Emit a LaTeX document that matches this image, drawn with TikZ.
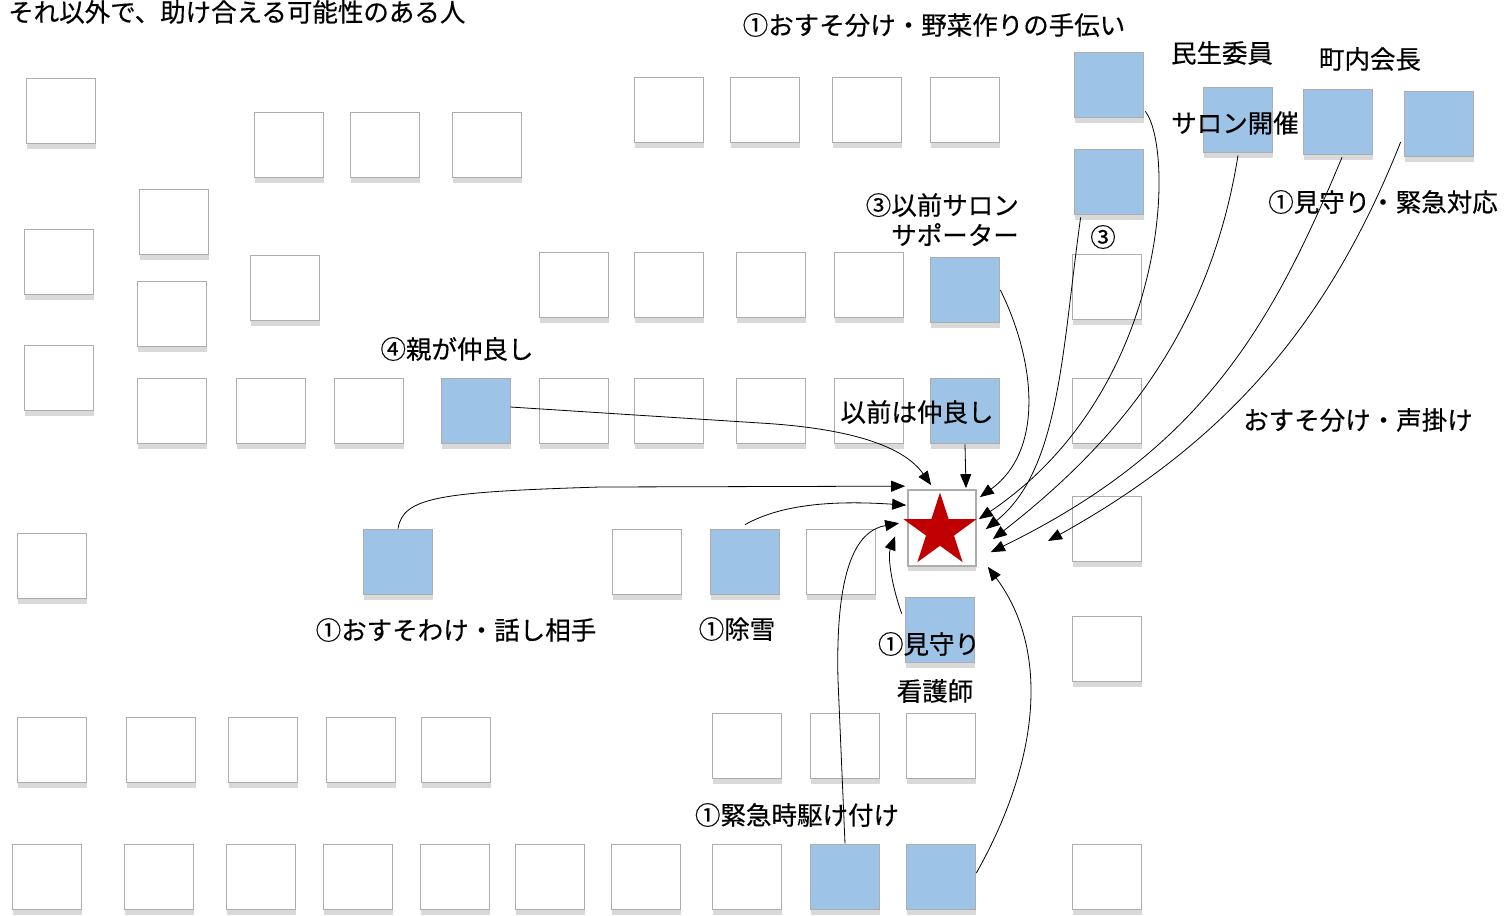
\documentclass[tikz,border=0pt]{standalone}
\usepackage{fontspec}
\newfontfamily\jp{Noto Sans CJK JP}[FakeBold=0.4]
\usetikzlibrary{shapes.geometric,shadows,arrows.meta,calc}
\definecolor{boxgray}{HTML}{ADADAD}
\definecolor{shadowgray}{HTML}{D9D9D9}
\definecolor{boxblue}{HTML}{9DC3E6}
\definecolor{starred}{HTML}{C00000}
\begin{document}
\begin{tikzpicture}[x=1pt,y=-1pt,
  box/.style={draw=boxgray, line width=1.7pt, fill=white, minimum width=69pt, minimum height=65pt, inner sep=0pt,
    drop shadow={shadow xshift=0pt, shadow yshift=-5pt, fill=shadowgray, opacity=1}},
  bbox/.style={box, fill=boxblue},
  lbl/.style={font=\jp\fontsize{25.5}{30}\selectfont, inner sep=0pt},
  arr/.style={-{Triangle[length=14pt,width=11pt]}, line width=0.8pt}]
\useasboundingbox (0,0) rectangle (1508,916);
\fill[white] (0,0) rectangle (1508,916);

% left area
\node[box] (l1) at (61,111) {};
\node[box] (l2) at (289,145) {};
\node[box] (l3) at (385,145) {};
\node[box] (l4) at (487,145) {};
\node[box] (l5) at (174,222) {};
\node[box] (l6) at (59,262) {};
\node[box] (l7) at (285,288) {};
\node[box] (l8) at (172,314) {};
\node[box] (l9) at (59,378) {};
% top row
\node[box] (t1) at (669,110) {};
\node[box] (t2) at (765,110) {};
\node[box] (t3) at (867,110) {};
\node[box] (t4) at (965,110) {};
\node[bbox] (yasai) at (1109,85) {};
\node[bbox] (san) at (1109,182) {};
\node[bbox] (minsei) at (1238,120) {};
\node[bbox] (chonai) at (1338,122) {};
\node[bbox] (koe) at (1439,124) {};
% row 285
\node[box] (r1) at (574,285) {};
\node[box] (r2) at (669,285) {};
\node[box] (r3) at (771,285) {};
\node[box] (r4) at (869,285) {};
\node[bbox] (salon) at (965,290) {};
\node[box] (r6) at (1107,287) {};
% row 411
\node[box] (m1) at (172,411) {};
\node[box] (m2) at (271,411) {};
\node[box] (m3) at (369,411) {};
\node[bbox] (oya) at (476,411) {};
\node[box] (m5) at (574,411) {};
\node[box] (m6) at (669,411) {};
\node[box] (m7) at (771,411) {};
\node[box] (m8) at (869,411) {};
\node[bbox] (izen) at (965,411) {};
\node[box] (m10) at (1107,411) {};
% middle row
\node[box] (c1) at (52,566) {};
\node[bbox] (hanashi) at (398,562) {};
\node[box] (c3) at (647,562) {};
\node[bbox] (josetsu) at (745,562) {};
\node[box] (c5) at (841,562) {};
\node[box] (c6) at (1107,529) {};
\node[box] (c7) at (1107,649) {};
\node[bbox] (mimamori) at (940,630) {};
% self
\node[box, minimum width=68pt, minimum height=76pt] (self) at (942,528) {};
\node[star, star points=5, star point ratio=2.618, minimum size=77pt, inner sep=0pt, fill=starred] (st) at (940,531) {};
% row 750
\node[box] (d1) at (52,750) {};
\node[box] (d2) at (161,750) {};
\node[box] (d3) at (263,750) {};
\node[box] (d4) at (361,750) {};
\node[box] (d5) at (456,750) {};
\node[box] (d6) at (747,746) {};
\node[box] (d7) at (845,746) {};
\node[box] (d8) at (941,746) {};
% bottom row
\node[box] (e1) at (47,877) {};
\node[box] (e2) at (159,877) {};
\node[box] (e3) at (261,877) {};
\node[box] (e4) at (358,877) {};
\node[box] (e5) at (455,877) {};
\node[box] (e6) at (550,877) {};
\node[box] (e7) at (646,877) {};
\node[box] (e8) at (747,877) {};
\node[bbox] (kinkyu) at (845,877) {};
\node[bbox] (e10) at (941,877) {};
\node[box] (e11) at (1107,877) {};

% labels
\node[lbl, anchor=west] (tx0) at (8,12) {それ以外で、助け合える可能性のある人};
\node[lbl] (tx1) at (934,25) {①おすそ分け・野菜作りの手伝い};
\node[lbl] (tx2) at (1222,53) {民生委員};
\node[lbl] (tx3) at (1370,59) {町内会長};
\node[lbl] (tx4) at (1235,123) {サロン開催};
\node[lbl] (tx5) at (1383,202) {①見守り・緊急対応};
\node[lbl, align=right, anchor=north east, font=\jp\fontsize{25.5}{30}\selectfont] (tx6) at (1019,193) {③以前サロン\\サポーター};
\node[lbl] (tx7) at (1103,237) {③};
\node[lbl] (tx8) at (457,349) {④親が仲良し};
\node[lbl] (tx9) at (917,412) {以前は仲良し};
\node[lbl] (tx10) at (1358,420) {おすそ分け・声掛け};
\node[lbl] (tx11) at (456,630) {①おすそわけ・話し相手};
\node[lbl] (tx12) at (737,629) {①除雪};
\node[lbl] (tx13) at (929,644) {①見守り};
\node[lbl] (tx14) at (935,691) {看護師};
\node[lbl] (tx15) at (797,815) {①緊急時駆け付け};

% connectors
\coordinate (koeEnd) at (1048,541);
\draw[arr] ($(oya.east)+(-1,-4)$) -- (760,423) .. controls (880,430) and (912,458) .. ($(self.north west)+(24,-4)$);
\draw[arr] (hanashi.north) .. controls (403,497) and (440,492) .. (600,487) -- ($(self.north west)+(-2,-3)$);
\draw[arr] ($(josetsu.north)+(0,-4)$) .. controls (780,505) and (830,500) .. ($(self.north west)+(-1,16)$);
\draw[arr] (izen.south) -- ($(self.north)+(24,-1)$);
\draw[arr] ($(salon.east)+(0,0)$) .. controls (1035,360) and (1045,450) .. ($(self.north east)+(3,8)$);
\draw[arr] ($(yasai.south east)+(1,-7)$) .. controls (1175,150) and (1170,390) .. ($(self.north east)+(2,30)$);
\draw[arr] ($(san.south west)+(7,2)$) .. controls (1062,350) and (1060,470) .. ($(self.north east)+(9,40)$);
\draw[arr] ($(minsei.south)+(0,2)$) .. controls (1210,330) and (1120,440) .. ($(self.north east)+(16,50)$);
\draw[arr] ($(chonai.south)+(4,2)$) .. controls (1270,330) and (1200,450) .. ($(self.north east)+(14,63)$);
\draw[arr] ($(koe.west)+(-3,18)$) .. controls (1330,320) and (1230,440) .. (koeEnd);
\draw[arr] ($(e10.east)+(0,-4)$) .. controls (1040,760) and (1050,650) .. ($(self.south east)+(11,0)$);
\draw[arr] (kinkyu.north) -- (838,680) .. controls (835,560) and (860,530) .. ($(self.north west)+(-8,34)$);
\draw[arr] ($(mimamori.north west)+(-3,17)$) .. controls (890,580) and (888,555) .. ($(self.north west)+(-12,47)$);
\end{tikzpicture}
\end{document}
